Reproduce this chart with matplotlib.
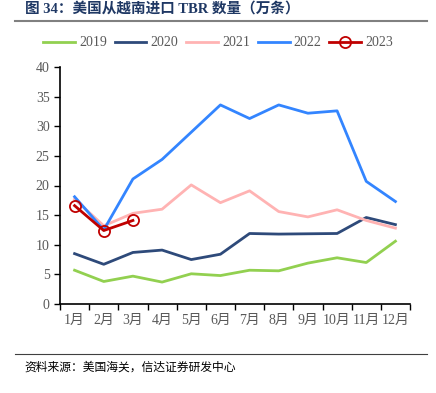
import matplotlib
matplotlib.use("Agg")
import matplotlib.pyplot as plt
import numpy as np

months = ["1月", "2月", "3月", "4月", "5月", "6月", "7月", "8月", "9月", "10月", "11月", "12月"]
y2019 = [5.7, 3.8, 4.7, 3.7, 5.1, 4.8, 5.7, 5.6, 6.9, 7.8, 7.0, 10.6]
y2020 = [8.5, 6.7, 8.7, 9.1, 7.5, 8.4, 11.9, 11.8, 11.85, 11.9, 14.6, 13.4]
y2021 = [17.7, 13.2, 15.3, 16.0, 20.1, 17.1, 19.1, 15.6, 14.7, 15.9, 14.1, 12.8]
y2022 = [18.1, 12.5, 21.1, 24.4, 29.0, 33.6, 31.3, 33.6, 32.2, 32.6, 20.7, 17.3]
y2023 = [16.6, 12.4, 14.1]

FONTS = ["Liberation Serif", "Noto Sans CJK SC"]
GRAY = "#595959"

plt.rcParams["font.family"] = FONTS

fig = plt.figure(figsize=(4.36, 3.93), dpi=100)
ax = fig.add_axes([60 / 436, 1 - 304 / 393, 350 / 436, 237 / 393])

x = np.arange(len(months))
ax.plot(x, y2019, color="#92D050", lw=2, label="2019")
ax.plot(x, y2020, color="#2E4A7A", lw=2, label="2020")
ax.plot(x, y2021, color="#FFB3B3", lw=2, label="2021")
ax.plot(x, y2022, color="#3385FF", lw=2, label="2022")
ax.plot(x[:len(y2023)], y2023, color="#C00000", lw=2, marker="o", ms=8,
        mfc="none", mec="#C00000", mew=1.3, label="2023")

ax.set_xlim(-0.5, 11.5)
ax.set_ylim(0, 40)
ax.set_yticks(range(0, 41, 5))
ax.set_xticks(np.arange(-0.5, 12, 1))
ax.set_xticklabels([])
ax.set_xticks(x, minor=True)
ax.set_xticklabels(months, minor=True)
ax.tick_params(axis="x", which="major", length=4, direction="out", width=1)
ax.tick_params(axis="x", which="minor", length=0, pad=7, labelsize=10, labelcolor=GRAY)
ax.tick_params(axis="y", length=4, direction="out", width=1, labelsize=10, labelcolor=GRAY)
for s in ("top", "right"):
    ax.spines[s].set_visible(False)
for s in ("left", "bottom"):
    ax.spines[s].set_linewidth(1.2)

fig.legend(loc="center", bbox_to_anchor=(0.5, 1 - 43 / 393), ncol=5, frameon=False,
           fontsize=10, handlelength=2.3, columnspacing=0.55, handletextpad=0.3,
           labelcolor=GRAY)

fig.text(0.057, 1 - 9 / 393, "图 34：美国从越南进口 TBR 数量（万条）", fontsize=10.5,
         color="#1F3864", fontweight="bold", va="center", ha="left")
fig.add_artist(plt.Line2D([15 / 436, 427 / 436], [1 - 21 / 393] * 2, color="#808080", lw=1.5))
fig.add_artist(plt.Line2D([15 / 436, 427 / 436], [1 - 354 / 393] * 2, color="#404040", lw=0.8))
fig.text(0.057, 1 - 368 / 393, "资料来源：美国海关，信达证券研发中心", fontsize=8.5,
         color="#000000", style="italic", va="center", ha="left")

fig.savefig("out.png", dpi=100)
